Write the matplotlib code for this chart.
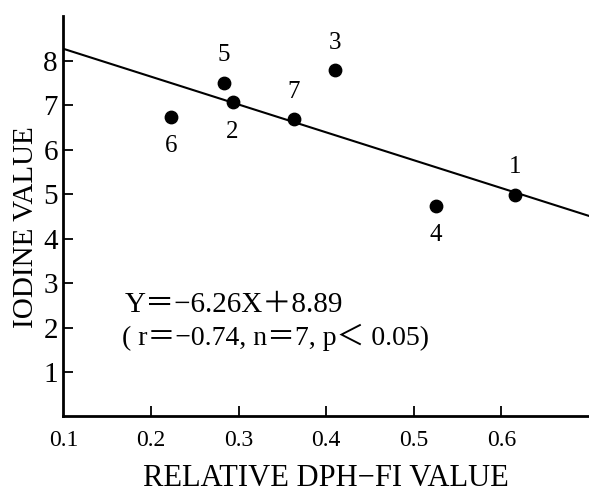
import matplotlib.pyplot as plt

# values
x_vals = [0.616, 0.293, 0.410, 0.525, 0.283, 0.223, 0.363]
y_vals = [4.98, 7.06, 7.78, 4.74, 7.50, 6.73, 6.68]
point_ids = ['1', '2', '3', '4', '5', '6', '7']
label_above = [True, False, True, False, True, False, True]

slope = -6.26
intercept = 8.89
line_x = [0.1, 0.70]

x_ticks = [0.1, 0.2, 0.3, 0.4, 0.5, 0.6]
y_ticks = [1, 2, 3, 4, 5, 6, 7, 8]

serif = ['Liberation Serif', 'DejaVu Serif']
mixed = ['Liberation Serif', 'Noto Sans CJK JP', 'DejaVu Serif']

fig = plt.figure(figsize=(5.89, 4.98), dpi=100)
ax = fig.add_axes([0.1078, 0.1637, 0.8922, 0.804])

ax.plot(line_x, [slope * x + intercept for x in line_x], color='black', lw=1.5)
ax.scatter(x_vals, y_vals, s=80, color='black', zorder=3)

for x, y, t, up in zip(x_vals, y_vals, point_ids, label_above):
    ax.annotate(t, (x, y), xytext=(0, 20 if up else -21), textcoords='offset points',
                ha='center', va='center', fontsize=18, family=serif)

ax.text(0.170, 2.51, 'Y＝−6.26X＋8.89', fontsize=21, family=mixed, va='center')
ax.text(0.167, 1.77, '( r＝−0.74, n＝7, p＜ 0.05)', fontsize=20, family=mixed, va='center')

ax.set_xlim(0.1, 0.70)
ax.set_ylim(0, 9.0)
for s in ['top', 'right']:
    ax.spines[s].set_visible(False)
for s in ['left', 'bottom']:
    ax.spines[s].set_linewidth(2)

ax.set_xticks(x_ticks)
ax.set_xticklabels([f'{v:.1f}' for v in x_ticks], family=serif, fontsize=17)
ax.set_yticks(y_ticks)
ax.set_yticklabels([str(v) for v in y_ticks], family=serif, fontsize=21)
ax.tick_params(axis='x', direction='in', length=7, width=1.3, pad=10)
ax.tick_params(axis='y', direction='in', length=7, width=1.3, pad=4)
ax.xaxis.get_major_ticks()[0].tick1line.set_visible(False)

ax.set_xlabel('RELATIVE DPH−FI VALUE', family=serif, fontsize=22, labelpad=9)
ax.set_ylabel('IODINE VALUE', family=serif, fontsize=21)
ax.yaxis.set_label_coords(-0.047, 0.474)

fig.savefig('out.png', dpi=100)
